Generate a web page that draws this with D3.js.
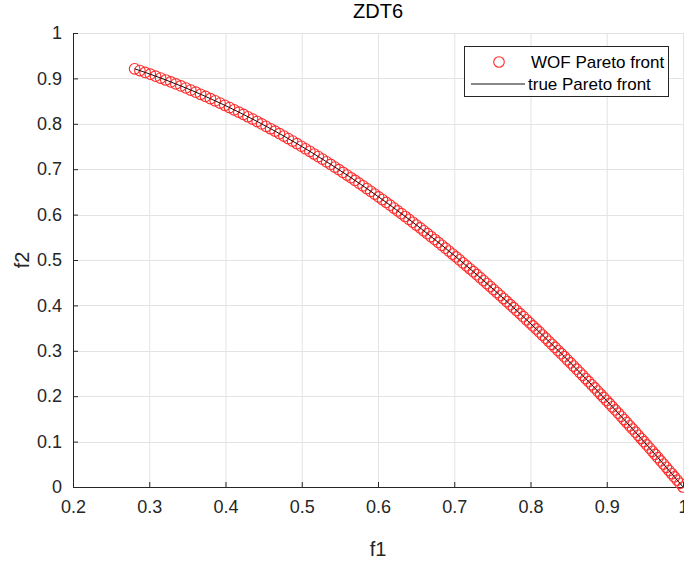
<!DOCTYPE html>
<html>
<head>
<meta charset="utf-8">
<script src="https://cdn.jsdelivr.net/npm/d3@7/dist/d3.min.js"></script>
<style>
  html, body { margin: 0; padding: 0; background: #fff; }
  svg { display: block; font-family: Arial, "Liberation Sans", Helvetica, sans-serif; }
</style>
</head>
<body>
<svg id="chart" width="684" height="570"></svg>
<script>
// ZDT6: obtained (WOF) Pareto front samples
const wofF1 = [
  0.2808, 0.2877, 0.2946, 0.3014, 0.3082, 0.3149, 0.3217, 0.3283, 0.3349, 0.3415,
  0.3480, 0.3545, 0.3610, 0.3674, 0.3738, 0.3802, 0.3865, 0.3928, 0.3991, 0.4053,
  0.4114, 0.4175, 0.4235, 0.4295, 0.4355, 0.4415, 0.4474, 0.4533, 0.4592, 0.4650,
  0.4708, 0.4766, 0.4823, 0.4880, 0.4937, 0.4994, 0.5050, 0.5106, 0.5162, 0.5217,
  0.5271, 0.5326, 0.5380, 0.5434, 0.5487, 0.5541, 0.5594, 0.5646, 0.5699, 0.5751,
  0.5803, 0.5854, 0.5906, 0.5957, 0.6008, 0.6058, 0.6109, 0.6159, 0.6210, 0.6259,
  0.6308, 0.6358, 0.6407, 0.6456, 0.6504, 0.6553, 0.6601, 0.6649, 0.6696, 0.6744,
  0.6791, 0.6838, 0.6884, 0.6931, 0.6978, 0.7023, 0.7069, 0.7115, 0.7161, 0.7206,
  0.7251, 0.7296, 0.7340, 0.7385, 0.7429, 0.7473, 0.7517, 0.7561, 0.7605, 0.7648,
  0.7691, 0.7735, 0.7778, 0.7820, 0.7863, 0.7905, 0.7948, 0.7990, 0.8032, 0.8074,
  0.8115, 0.8157, 0.8199, 0.8240, 0.8281, 0.8322, 0.8363, 0.8404, 0.8444, 0.8484,
  0.8525, 0.8565, 0.8605, 0.8645, 0.8684, 0.8724, 0.8763, 0.8803, 0.8842, 0.8881,
  0.8920, 0.8959, 0.8998, 0.9036, 0.9074, 0.9112, 0.9151, 0.9189, 0.9227, 0.9264,
  0.9302, 0.9339, 0.9377, 0.9414, 0.9451, 0.9488, 0.9525, 0.9562, 0.9599, 0.9635,
  0.9672, 0.9708, 0.9745, 0.9781, 0.9817, 0.9853, 0.9888, 0.9924, 0.9960, 1.0000
];
const wofF2 = [
  0.9212, 0.9172, 0.9132, 0.9092, 0.9050, 0.9008, 0.8965, 0.8922, 0.8878, 0.8834,
  0.8789, 0.8743, 0.8697, 0.8650, 0.8603, 0.8554, 0.8506, 0.8457, 0.8407, 0.8357,
  0.8307, 0.8257, 0.8206, 0.8155, 0.8103, 0.8051, 0.7998, 0.7945, 0.7891, 0.7838,
  0.7783, 0.7729, 0.7674, 0.7619, 0.7563, 0.7506, 0.7450, 0.7393, 0.7335, 0.7278,
  0.7222, 0.7163, 0.7106, 0.7047, 0.6989, 0.6930, 0.6871, 0.6812, 0.6752, 0.6693,
  0.6633, 0.6573, 0.6512, 0.6451, 0.6390, 0.6330, 0.6268, 0.6207, 0.6144, 0.6082,
  0.6021, 0.5958, 0.5895, 0.5832, 0.5770, 0.5706, 0.5643, 0.5579, 0.5516, 0.5452,
  0.5388, 0.5324, 0.5261, 0.5196, 0.5131, 0.5068, 0.5003, 0.4938, 0.4872, 0.4807,
  0.4742, 0.4677, 0.4612, 0.4546, 0.4481, 0.4415, 0.4349, 0.4283, 0.4216, 0.4151,
  0.4085, 0.4017, 0.3950, 0.3885, 0.3817, 0.3751, 0.3683, 0.3616, 0.3549, 0.3481,
  0.3415, 0.3346, 0.3278, 0.3210, 0.3142, 0.3074, 0.3006, 0.2937, 0.2870, 0.2802,
  0.2732, 0.2664, 0.2595, 0.2526, 0.2459, 0.2389, 0.2321, 0.2251, 0.2182, 0.2113,
  0.2043, 0.1974, 0.1904, 0.1835, 0.1766, 0.1697, 0.1626, 0.1556, 0.1486, 0.1418,
  0.1347, 0.1278, 0.1207, 0.1138, 0.1068, 0.0998, 0.0927, 0.0857, 0.0786, 0.0717,
  0.0645, 0.0575, 0.0504, 0.0433, 0.0363, 0.0292, 0.0223, 0.0151, 0.0080, 0.0000
];
// True Pareto front, sampled at the same f1 positions
const trueF1 = wofF1;
const trueF2 = wofF2;

const xTicks = [0.2, 0.3, 0.4, 0.5, 0.6, 0.7, 0.8, 0.9, 1];
const yTicks = [0, 0.1, 0.2, 0.3, 0.4, 0.5, 0.6, 0.7, 0.8, 0.9, 1];
const titleText = "ZDT6";
const xLabelText = "f1";
const yLabelText = "f2";
const legendLabels = ["WOF Pareto front", "true Pareto front"];

const svg = d3.select("#chart");
const plot = { left: 73, right: 683, top: 33, bottom: 487 };

const x = d3.scaleLinear().domain([0.2, 1]).range([plot.left, plot.right]);
const y = d3.scaleLinear().domain([0, 1]).range([plot.bottom, plot.top]);

const axisColor = "#262626";
const gridColor = "#e3e3e3";
const markerColor = "#ff2a2a";

// grid
const grid = svg.append("g");
grid.selectAll("line.gx").data(xTicks).join("line")
  .attr("x1", d => x(d) + 0.5).attr("x2", d => x(d) + 0.5)
  .attr("y1", plot.top).attr("y2", plot.bottom)
  .attr("stroke", gridColor).attr("stroke-width", 1);
grid.selectAll("line.gy").data(yTicks).join("line")
  .attr("y1", d => Math.round(y(d)) + 0.5).attr("y2", d => Math.round(y(d)) + 0.5)
  .attr("x1", plot.left).attr("x2", plot.right)
  .attr("stroke", gridColor).attr("stroke-width", 1);

// axes (ticks point inwards)
const xAxis = d3.axisBottom(x).tickValues(xTicks).tickSize(-5).tickPadding(13)
  .tickFormat(d3.format("~g"));
const yAxis = d3.axisLeft(y).tickValues(yTicks).tickSize(-5).tickPadding(11)
  .tickFormat(d3.format("~g"));

const gx = svg.append("g").attr("transform", `translate(0,${plot.bottom})`).call(xAxis);
const gy = svg.append("g").attr("transform", `translate(${plot.left},0)`).call(yAxis);
[gx, gy].forEach(g => {
  g.select(".domain").attr("stroke", axisColor).attr("stroke-width", 1);
  g.selectAll(".tick line").attr("stroke", axisColor);
  g.selectAll(".tick text").attr("fill", axisColor)
    .style("font-size", "18px").style("font-family", "Arial, 'Liberation Sans', sans-serif");
});

// markers
const pts = wofF1.map((v, i) => [v, wofF2[i]]);
svg.append("g").selectAll("circle").data(pts).join("circle")
  .attr("cx", d => x(d[0])).attr("cy", d => y(d[1])).attr("r", 5.3)
  .attr("fill", "none").attr("stroke", markerColor).attr("stroke-width", 1.1);

// true front line
const line = d3.line().x(d => x(d[0])).y(d => y(d[1]));
svg.append("path").datum(trueF1.map((v, i) => [v, trueF2[i]]))
  .attr("d", line).attr("fill", "none").attr("stroke", "#111").attr("stroke-width", 1);

// title and axis labels
svg.append("text").attr("x", (plot.left + plot.right) / 2).attr("y", 18)
  .attr("text-anchor", "middle").attr("fill", "#000").style("font-size", "20px")
  .text(titleText);
svg.append("text").attr("x", (plot.left + plot.right) / 2).attr("y", 556)
  .attr("text-anchor", "middle").attr("fill", axisColor).style("font-size", "20px")
  .text(xLabelText);
svg.append("text").attr("transform", `translate(29,${(plot.top + plot.bottom) / 2}) rotate(-90)`)
  .attr("text-anchor", "middle").attr("fill", axisColor).style("font-size", "20px")
  .text(yLabelText);

// legend
const lg = svg.append("g");
lg.append("rect").attr("x", 464.5).attr("y", 46.5).attr("width", 204).attr("height", 50)
  .attr("fill", "#fff").attr("stroke", axisColor).attr("stroke-width", 1);
lg.append("circle").attr("cx", 499).attr("cy", 62).attr("r", 5.3)
  .attr("fill", "none").attr("stroke", markerColor).attr("stroke-width", 1.1);
lg.append("line").attr("x1", 471).attr("x2", 525).attr("y1", 84).attr("y2", 84)
  .attr("stroke", "#111").attr("stroke-width", 1);
lg.append("text").attr("x", 531).attr("y", 62).attr("dy", "0.35em")
  .attr("fill", "#000").style("font-size", "17px").text(legendLabels[0]);
lg.append("text").attr("x", 528).attr("y", 84).attr("dy", "0.35em")
  .attr("fill", "#000").style("font-size", "17px").text(legendLabels[1]);
</script>
</body>
</html>
